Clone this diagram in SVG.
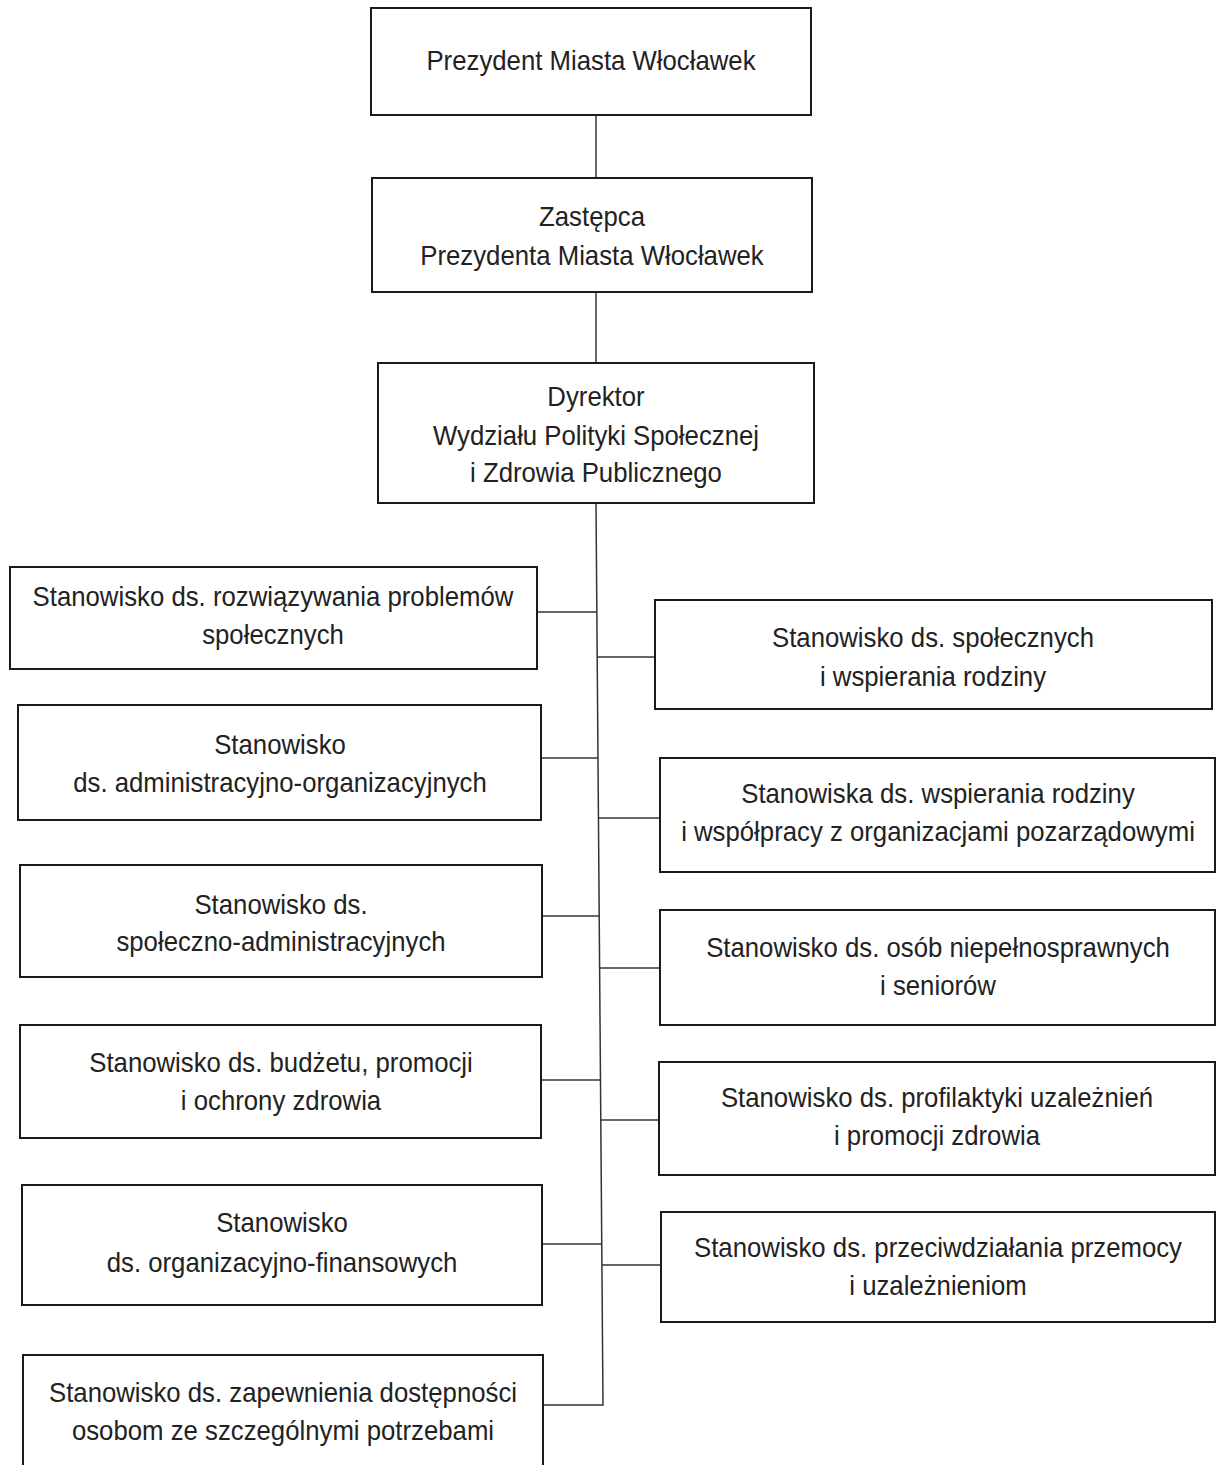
<svg xmlns="http://www.w3.org/2000/svg" width="1216" height="1465" viewBox="0 0 1216 1465">
<style>
.box{fill:#fff;stroke:#1a1a1a;stroke-width:2}
.t{font-family:"Liberation Sans",Arial,sans-serif;font-size:28px;fill:#222;text-anchor:middle}
.c{stroke:#333;stroke-width:1.5;fill:none}
</style>
<rect width="1216" height="1465" fill="#fff"/>
<g id="connectors">
<line class="c" x1="596" y1="115" x2="596" y2="178"/>
<line class="c" x1="596" y1="292" x2="596" y2="363"/>
<polyline class="c" points="596,503 603,1405 543,1405"/>
<line class="c" x1="537" y1="612" x2="597" y2="612"/>
<line class="c" x1="597" y1="657" x2="655" y2="657"/>
<line class="c" x1="541" y1="758" x2="598" y2="758"/>
<line class="c" x1="598" y1="818" x2="660" y2="818"/>
<line class="c" x1="542" y1="916" x2="599" y2="916"/>
<line class="c" x1="599" y1="968" x2="660" y2="968"/>
<line class="c" x1="541" y1="1080" x2="600" y2="1080"/>
<line class="c" x1="600" y1="1120" x2="659" y2="1120"/>
<line class="c" x1="542" y1="1244" x2="602" y2="1244"/>
<line class="c" x1="602" y1="1265" x2="661" y2="1265"/>
</g>
<g id="n1"><rect class="box" x="371" y="8" width="440" height="107"/><text class="t" transform="translate(591,70) scale(0.92,1)">Prezydent Miasta Włocławek</text></g>
<g id="n2"><rect class="box" x="372" y="178" width="440" height="114"/><text class="t" transform="translate(592,226) scale(0.92,1)">Zastępca</text><text class="t" transform="translate(592,265) scale(0.92,1)">Prezydenta Miasta Włocławek</text></g>
<g id="n3"><rect class="box" x="378" y="363" width="436" height="140"/><text class="t" transform="translate(596,406) scale(0.92,1)">Dyrektor</text><text class="t" transform="translate(596,445) scale(0.92,1)">Wydziału Polityki Społecznej</text><text class="t" transform="translate(596,482) scale(0.92,1)">i Zdrowia Publicznego</text></g>
<g id="l1"><rect class="box" x="10" y="567" width="527" height="102"/><text class="t" transform="translate(273,606) scale(0.92,1)">Stanowisko ds. rozwiązywania problemów</text><text class="t" transform="translate(273,644) scale(0.92,1)">społecznych</text></g>
<g id="r1"><rect class="box" x="655" y="600" width="557" height="109"/><text class="t" transform="translate(933,647) scale(0.92,1)">Stanowisko ds. społecznych</text><text class="t" transform="translate(933,686) scale(0.92,1)">i wspierania rodziny</text></g>
<g id="l2"><rect class="box" x="18" y="705" width="523" height="115"/><text class="t" transform="translate(280,754) scale(0.92,1)">Stanowisko</text><text class="t" transform="translate(280,792) scale(0.92,1)">ds. administracyjno-organizacyjnych</text></g>
<g id="r2"><rect class="box" x="660" y="758" width="555" height="114"/><text class="t" transform="translate(938,803) scale(0.92,1)">Stanowiska ds. wspierania rodziny</text><text class="t" transform="translate(938,841) scale(0.92,1)">i współpracy z organizacjami pozarządowymi</text></g>
<g id="l3"><rect class="box" x="20" y="865" width="522" height="112"/><text class="t" transform="translate(281,914) scale(0.92,1)">Stanowisko ds.</text><text class="t" transform="translate(281,951) scale(0.92,1)">społeczno-administracyjnych</text></g>
<g id="r3"><rect class="box" x="660" y="910" width="555" height="115"/><text class="t" transform="translate(938,957) scale(0.92,1)">Stanowisko ds. osób niepełnosprawnych</text><text class="t" transform="translate(938,995) scale(0.92,1)">i seniorów</text></g>
<g id="l4"><rect class="box" x="20" y="1025" width="521" height="113"/><text class="t" transform="translate(281,1072) scale(0.92,1)">Stanowisko ds. budżetu, promocji</text><text class="t" transform="translate(281,1110) scale(0.92,1)">i ochrony zdrowia</text></g>
<g id="r4"><rect class="box" x="659" y="1062" width="556" height="113"/><text class="t" transform="translate(937,1107) scale(0.92,1)">Stanowisko ds. profilaktyki uzależnień</text><text class="t" transform="translate(937,1145) scale(0.92,1)">i promocji zdrowia</text></g>
<g id="l5"><rect class="box" x="22" y="1185" width="520" height="120"/><text class="t" transform="translate(282,1232) scale(0.92,1)">Stanowisko</text><text class="t" transform="translate(282,1272) scale(0.92,1)">ds. organizacyjno-finansowych</text></g>
<g id="r5"><rect class="box" x="661" y="1212" width="554" height="110"/><text class="t" transform="translate(938,1257) scale(0.92,1)">Stanowisko ds. przeciwdziałania przemocy</text><text class="t" transform="translate(938,1295) scale(0.92,1)">i uzależnieniom</text></g>
<g id="l6"><rect class="box" x="23" y="1355" width="520" height="120"/><text class="t" transform="translate(283,1402) scale(0.92,1)">Stanowisko ds. zapewnienia dostępności</text><text class="t" transform="translate(283,1440) scale(0.92,1)">osobom ze szczególnymi potrzebami</text></g>
</svg>
